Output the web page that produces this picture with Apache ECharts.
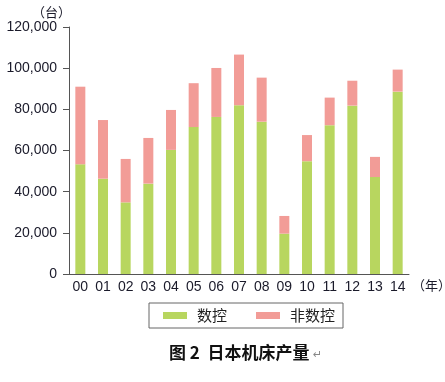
<!DOCTYPE html>
<html><head><meta charset="utf-8">
<script src="https://cdn.jsdelivr.net/npm/echarts@6/dist/echarts.min.js"></script>
<style>html,body{margin:0;padding:0;background:#fff}#c{width:445px;height:382px}</style>
</head><body><div id="c"></div>
<script>
const years = ['00','01','02','03','04','05','06','07','08','09','10','11','12','13','14'];
const nc = [53300, 46300, 34800, 43900, 60300, 71400, 76300, 82000, 74000, 19600, 54800, 72300, 81800, 47100, 88600];
const total = [91000, 74800, 55900, 66100, 79700, 92700, 100100, 106600, 95400, 28200, 67500, 85700, 93900, 56900, 99300];
const nonNc = total.map((t, i) => t - nc[i]);
const yTicks = [0, 20000, 40000, 60000, 80000, 100000, 120000];

const chart = echarts.init(document.getElementById('c'));
const font = 'Liberation Sans, Arial, sans-serif';
chart.setOption({
  animation: false,
  grid: { left: 69, right: 36, top: 27, bottom: 108 },
  legend: {
    left: 149, top: 303,
    data: ['数控', '非数控'],
    borderColor: '#666', borderWidth: 1, borderRadius: 0,
    padding: [5, 8, 5, 14],
    itemWidth: 24, itemHeight: 7, itemGap: 29,
    icon: 'rect',
    textStyle: { fontSize: 15, color: '#222', fontFamily: 'Noto Sans CJK SC', padding: [0, 0, 0, 5] }
  },
  xAxis: {
    type: 'category', data: years,
    axisLine: { lineStyle: { color: '#555', width: 1 } },
    axisTick: { length: 5, lineStyle: { color: '#555' } },
    axisLabel: { fontSize: 14, color: '#1a1a2a', fontFamily: font, margin: 6 }
  },
  yAxis: {
    type: 'value', min: 0, max: 120000, interval: 20000,
    name: '（台）',
    nameLocation: 'end', nameGap: 8,
    nameTextStyle: { fontSize: 13, color: '#1a1a2a', fontFamily: 'Noto Sans CJK SC', align: 'right', padding: [0, -2, 0, 0] },
    axisLine: { show: true, lineStyle: { color: '#555', width: 1 } },
    axisTick: { show: true, inside: false, length: 6, lineStyle: { color: '#555' } },
    splitLine: { show: false },
    axisLabel: {
      fontSize: 14, color: '#1a1a2a', fontFamily: font, margin: 12,
      formatter: v => v.toLocaleString('en-US')
    }
  },
  series: [
    { name: '数控', type: 'bar', stack: 's', data: nc, barWidth: 10,
      itemStyle: { color: '#b8d65f' } },
    { name: '非数控', type: 'bar', stack: 's', data: nonNc, barWidth: 10,
      itemStyle: { color: '#f29c97' } }
  ],
  graphic: [
    { type: 'text', left: 412, top: 279,
      style: { text: '（年）', fontSize: 13, fill: '#1a1a2a', fontFamily: 'Noto Sans CJK SC' } },
    { type: 'text', left: 169, top: 344,
      style: { text: '图 2  日本机床产量', fontSize: 17, fontWeight: 'bold', fill: '#111', fontFamily: 'Noto Sans CJK SC' } },
    { type: 'text', left: 313, top: 350,
      style: { text: '↵', fontSize: 11, fill: '#888', fontFamily: 'DejaVu Sans' } }
  ]
});
</script></body></html>
